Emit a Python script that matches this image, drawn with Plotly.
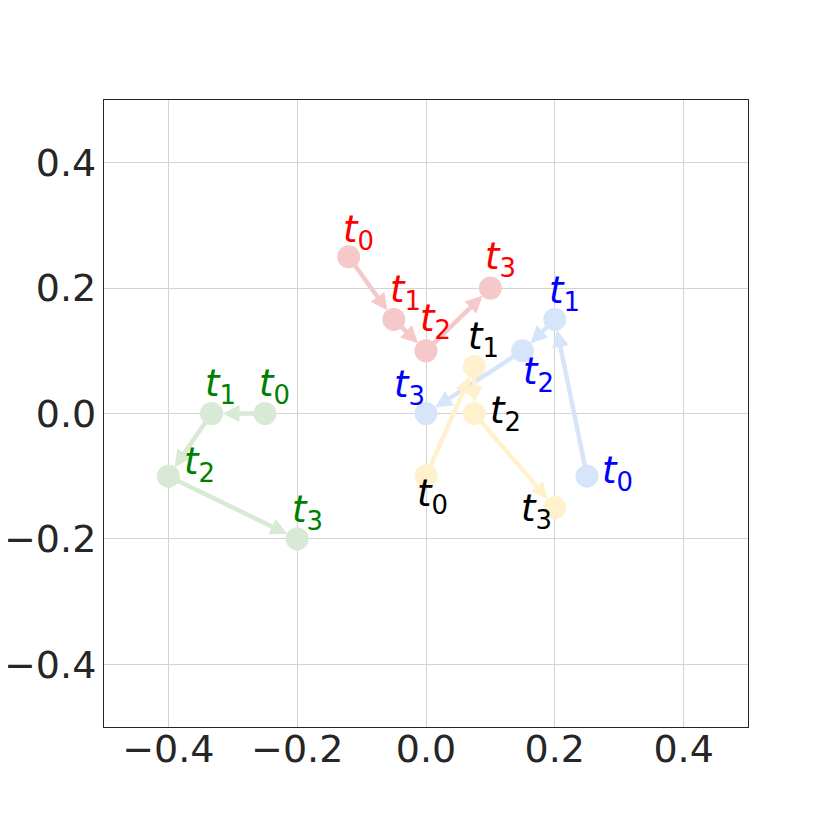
import plotly.graph_objects as go

# trajectories, one per colour, points t0..t3
red_x = [-0.12, -0.05, 0.0, 0.1]
red_y = [0.25, 0.15, 0.1, 0.2]
blue_x = [0.25, 0.2, 0.15, 0.0]
blue_y = [-0.1, 0.15, 0.1, 0.0]
yellow_x = [0.0, 0.075, 0.075, 0.2]
yellow_y = [-0.1, 0.075, 0.0, -0.15]
green_x = [-0.25, -0.333, -0.4, -0.2]
green_y = [0.0, 0.0, -0.1, -0.2]

tick_vals = [-0.4, -0.2, 0.0, 0.2, 0.4]
tick_text = ["\u22120.4", "\u22120.2", "0.0", "0.2", "0.4"]

# label pixel offsets (dx, dy) for each point
red_off = [(10, 25), (12, 27), (9, 30), (10, 29)]
blue_off = [(30, 3), (10, 26), (16, -23), (-17, 27)]
yellow_off = [(6, -20), (9, 27), (31, 1), (-18, -3)]
green_off = [(9, 28), (9, 28), (31, 12), (10, 27)]

series = [
    (red_x, red_y, "#f5c9c9", "red", red_off),
    (blue_x, blue_y, "#d7e5fb", "blue", blue_off),
    (yellow_x, yellow_y, "#fff1cc", "black", yellow_off),
    (green_x, green_y, "#d8e9d5", "green", green_off),
]

fig = go.Figure()
annotations = []

for xs, ys, col, label_col, offs in series:
    fig.add_trace(go.Scatter(
        x=xs, y=ys, mode="markers",
        marker=dict(size=23, color=col),
        showlegend=False, hoverinfo="skip",
    ))
    for i in range(len(xs) - 1):
        annotations.append(dict(
            x=xs[i + 1], y=ys[i + 1], ax=xs[i], ay=ys[i],
            xref="x", yref="y", axref="x", ayref="y",
            showarrow=True, arrowhead=2, arrowsize=0.75, arrowwidth=4.5,
            arrowcolor=col, standoff=11, text="",
        ))
    for i, (dx, dy) in enumerate(offs):
        annotations.append(dict(
            x=xs[i], y=ys[i], xref="x", yref="y",
            text=f"<i>t</i><sub>{i}</sub>", showarrow=False,
            xshift=dx, yshift=dy,
            font=dict(family="DejaVu Sans", size=37, color=label_col),
        ))

axis_style = dict(
    range=[-0.5, 0.5], tickvals=tick_vals, ticktext=tick_text,
    showgrid=True, gridcolor="#d3d3d3", gridwidth=1,
    zeroline=False, showline=True, linecolor="#262626", linewidth=1.2,
    mirror=True, ticks="", automargin=False,
    tickfont=dict(family="DejaVu Sans", size=38, color="#262626"),
)

fig.update_layout(
    width=830, height=830,
    margin=dict(l=96, r=90, t=92, b=111),
    plot_bgcolor="white", paper_bgcolor="white",
    xaxis=dict(axis_style, ticklabelstandoff=-12),
    yaxis=dict(axis_style, ticklabelstandoff=-1),
    annotations=annotations,
)

fig.write_html("out.html")
